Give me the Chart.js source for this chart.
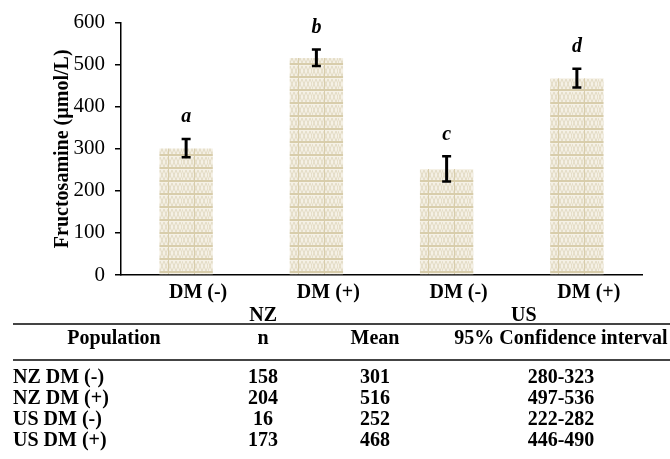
<!DOCTYPE html>
<html>
<head>
<meta charset="utf-8">
<script src="https://cdn.jsdelivr.net/npm/chart.js@4.4.1/dist/chart.umd.min.js"></script>
<style>
  html, body { margin: 0; padding: 0; background: #fff; overflow: hidden; }
  #wrap { position: absolute; left: 0; top: 0; width: 670px; height: 325px; }
  #stats {
    position: absolute; left: 13px; top: 323px; width: 670px;
    border-collapse: separate; border-spacing: 0; table-layout: fixed;
    font: bold 20px "Liberation Serif", "Times New Roman", serif; color: #000;
  }
  #stats th, #stats td { padding: 0; white-space: nowrap; }
  #stats th {
    font-weight: bold; height: 34px; line-height: 24px; vertical-align: top; text-align: center;
    border-top: 2px solid #444; border-bottom: 2px solid #444;
  }
  #stats td { height: 21px; line-height: 21px; text-align: center; }
  #stats td:first-child { text-align: left; }
  #stats tbody tr:first-child td { padding-top: 5px; }
</style>
</head>
<body>
<div id="wrap"><canvas id="fructChart"></canvas></div>
<table id="stats">
  <colgroup><col style="width:202px"><col style="width:96px"><col style="width:128px"><col style="width:244px"></colgroup>
  <thead><tr id="statsHead"></tr></thead>
  <tbody id="statsBody"></tbody>
</table>
<script>
const categories = ['DM (-)', 'DM (+)', 'DM (-)', 'DM (+)'];
const groups = ['NZ', 'US'];
const populations = ['NZ DM (-)', 'NZ DM (+)', 'US DM (-)', 'US DM (+)'];
const nValues = [158, 204, 16, 173];
const means = [301, 516, 252, 468];
const ciLow = [280, 497, 222, 446];
const ciHigh = [323, 536, 282, 490];
const letters = ['a', 'b', 'c', 'd'];
const yTicks = [0, 100, 200, 300, 400, 500, 600];
const tableHeaders = ['Population', 'n', 'Mean', '95% Confidence interval'];

// table under the chart
const head = document.getElementById('statsHead');
tableHeaders.forEach(h => {
  const th = document.createElement('th');
  th.textContent = h;
  head.appendChild(th);
});
const body = document.getElementById('statsBody');
populations.forEach((p, i) => {
  const tr = document.createElement('tr');
  [p, nValues[i], means[i], ciLow[i] + '-' + ciHigh[i]].forEach(v => {
    const td = document.createElement('td');
    td.textContent = v;
    tr.appendChild(td);
  });
  body.appendChild(tr);
});

// beige woven fill like the Excel pattern
function makePattern() {
  const t = document.createElement('canvas');
  t.width = 26; t.height = 13;
  const c = t.getContext('2d');
  c.fillStyle = '#f5f1e6';
  c.fillRect(0, 0, 26, 13);
  c.strokeStyle = '#e3dbc4';
  c.lineWidth = 1;
  for (let x = 0; x < 26; x += 4) {
    c.beginPath();
    c.moveTo(x, 1); c.lineTo(x + 4, 11);
    c.moveTo(x + 4, 1); c.lineTo(x, 11);
    c.stroke();
  }
  c.fillStyle = '#d8cdab';
  c.fillRect(0, 11, 26, 2);
  c.fillRect(12, 0, 1, 11);
  return c.createPattern(t, 'repeat');
}

const serif = '"Liberation Serif", "Times New Roman", serif';

const errorBars = {
  id: 'errorBars',
  afterDatasetsDraw(chart) {
    const ctx = chart.ctx;
    const y = chart.scales.y;
    const meta = chart.getDatasetMeta(0);
    ctx.save();
    ctx.strokeStyle = '#000';
    meta.data.forEach((bar, i) => {
      const top = y.getPixelForValue(ciHigh[i]);
      const bot = y.getPixelForValue(ciLow[i]);
      ctx.lineWidth = 3;
      ctx.beginPath();
      ctx.moveTo(bar.x, top); ctx.lineTo(bar.x, bot);
      ctx.stroke();
      ctx.lineWidth = 2.5;
      ctx.beginPath();
      ctx.moveTo(bar.x - 4.5, top); ctx.lineTo(bar.x + 4.5, top);
      ctx.moveTo(bar.x - 4.5, bot); ctx.lineTo(bar.x + 4.5, bot);
      ctx.stroke();
      ctx.fillStyle = '#000';
      ctx.font = 'italic bold 20px ' + serif;
      ctx.textAlign = 'center';
      ctx.textBaseline = 'middle';
      ctx.fillText(letters[i], bar.x, top - 22);
    });
    ctx.restore();
  }
};

new Chart(document.getElementById('fructChart'), {
  type: 'bar',
  data: {
    labels: categories,
    datasets: [{
      data: means,
      backgroundColor: makePattern(),
      borderWidth: 0,
      barPercentage: 0.41,
      categoryPercentage: 1
    }]
  },
  options: {
    responsive: true,
    maintainAspectRatio: false,
    animation: false,
    layout: { padding: { top: 21, right: 28, left: 0, bottom: 0 } },
    plugins: {
      legend: { display: false },
      tooltip: { enabled: false }
    },
    scales: {
      y: {
        min: 0,
        max: 600,
        afterBuildTicks(scale) {
          scale.ticks = yTicks.map(v => ({ value: v }));
        },
        afterFit(scale) { scale.width = 121; },
        grid: { drawOnChartArea: false, drawTicks: true, tickLength: 6, color: '#000', lineWidth: 1.5 },
        border: { color: '#000', width: 1.5 },
        ticks: { color: '#000', padding: 10, font: { family: serif, size: 21 } },
        title: {
          display: true,
          text: 'Fructosamine (µmol/L)',
          color: '#000',
          padding: { top: 51, bottom: 0 },
          font: { family: serif, size: 20, weight: 'bold' }
        }
      },
      x: {
        weight: 0,
        afterFit(scale) { scale.height = 28; },
        grid: { display: false, drawTicks: false },
        border: { color: '#000', width: 1.5 },
        ticks: { color: '#000', padding: 6, labelOffset: 12, font: { family: serif, size: 20, weight: 'bold' } }
      },
      x2: {
        type: 'category',
        position: 'bottom',
        weight: 1,
        labels: groups,
        offset: true,
        afterFit(scale) { scale.height = 22; },
        grid: { display: false, drawTicks: false },
        border: { display: false },
        ticks: { color: '#000', padding: 1, labelOffset: 12, font: { family: serif, size: 20, weight: 'bold' } }
      }
    }
  },
  plugins: [errorBars]
});
</script>
</body>
</html>
